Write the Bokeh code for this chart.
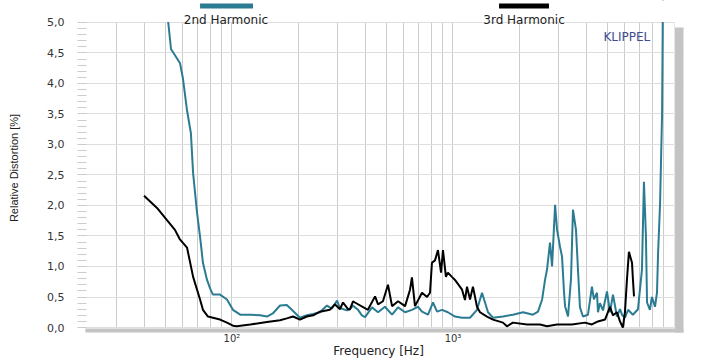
from bokeh.plotting import figure
from bokeh.models import Range1d, FixedTicker, Label
from bokeh.core.properties import value
from bokeh.embed import file_html
from bokeh.resources import INLINE

# ---------------- data ----------------
freq_2nd = [51.3, 53.0, 55.5, 58.2, 60.0, 62.6, 65.2, 66.7, 69.5, 71.7, 73.9, 77.1, 80.0, 82.0, 88.3,
            94.9, 101, 109, 121, 134, 144, 153, 165, 177, 189, 203, 218, 233, 250, 269, 283, 299,
            308, 331, 342, 353, 360, 372, 387, 400, 430, 458, 492, 530, 564, 607, 652, 695, 724,
            771, 812, 847, 892, 948, 1021, 1099, 1194, 1284, 1353, 1396, 1440, 1517, 1683, 1866,
            2075, 2301, 2425, 2531, 2609, 2663, 2748, 2807, 2897, 2957, 3051, 3115, 3177, 3214,
            3315, 3420, 3490, 3602, 3677, 3754, 3873, 4081, 4253, 4341, 4482, 4529, 4624, 4772,
            4975, 5131, 5295, 5519, 5695, 5815, 5998, 6194, 6516, 6871, 7161, 7311, 7464, 7551,
            7780, 7943, 8204, 8375, 8472, 8650, 8831, 8913]
dist_2nd = [5.05, 4.56, 4.45, 4.33, 4.08, 3.56, 3.18, 2.53, 1.88, 1.49, 1.06, 0.78, 0.62, 0.54, 0.54,
            0.46, 0.29, 0.21, 0.21, 0.20, 0.18, 0.23, 0.36, 0.37, 0.27, 0.16, 0.20, 0.22, 0.25, 0.36,
            0.31, 0.44, 0.32, 0.28, 0.30, 0.36, 0.33, 0.29, 0.20, 0.17, 0.33, 0.25, 0.34, 0.21, 0.33,
            0.25, 0.29, 0.34, 0.26, 0.21, 0.41, 0.26, 0.29, 0.25, 0.18, 0.16, 0.16, 0.29, 0.57, 0.41,
            0.25, 0.16, 0.18, 0.21, 0.25, 0.21, 0.26, 0.46, 0.78, 0.95, 1.39, 1.00, 2.01, 1.60, 1.32,
            1.16, 0.60, 0.35, 0.18, 0.80, 1.93, 1.60, 0.95, 0.33, 0.18, 0.21, 0.67, 0.46, 0.57, 0.25,
            0.40, 0.28, 0.59, 0.25, 0.54, 0.18, 0.30, 0.21, 0.16, 0.29, 0.21, 0.30, 0.95, 2.39, 1.50,
            0.41, 0.29, 0.50, 0.34, 0.57, 1.22, 2.04, 3.50, 5.50]

freq_3rd = [40.0, 45.8, 50.8, 55.2, 58.0, 62.6, 66.7, 71.7, 73.9, 77.9, 82.0, 88.3, 94.9, 101, 105,
            121, 144, 165, 177, 189, 203, 218, 233, 250, 277, 292, 308, 318, 335, 342, 353, 360,
            412, 444, 458, 482, 508, 530, 564, 607, 639, 652, 673, 724, 763, 787, 803, 829, 855,
            883, 901, 929, 948, 989, 1021, 1099, 1133, 1157, 1194, 1231, 1284, 1325, 1425, 1517,
            1683, 1754, 1866, 2163, 2477, 2663, 2957, 3454, 3954, 4253, 4529, 4875, 5131, 5295,
            5519, 5695, 5870, 5998, 6124, 6252, 6457, 6516, 6592]
dist_3rd = [2.16, 1.96, 1.76, 1.60, 1.45, 1.31, 0.83, 0.46, 0.29, 0.18, 0.16, 0.13, 0.08, 0.03, 0.02,
            0.05, 0.09, 0.12, 0.15, 0.18, 0.13, 0.18, 0.20, 0.26, 0.29, 0.38, 0.30, 0.41, 0.30, 0.30,
            0.43, 0.41, 0.29, 0.51, 0.38, 0.43, 0.70, 0.35, 0.43, 0.35, 0.62, 0.82, 0.35, 0.57, 0.50,
            0.57, 1.06, 1.10, 1.27, 0.90, 1.27, 0.83, 0.90, 0.83, 0.78, 0.62, 0.45, 0.67, 0.46, 0.67,
            0.34, 0.25, 0.18, 0.13, 0.08, 0.02, 0.08, 0.05, 0.05, 0.02, 0.05, 0.05, 0.08, 0.05, 0.10,
            0.13, 0.34, 0.20, 0.25, 0.10, 0.00, 0.25, 0.78, 1.24, 1.06, 0.80, 0.51]

series_names = ["2nd Harmonic", "3rd Harmonic"]
y_ticks = [0.0, 0.5, 1.0, 1.5, 2.0, 2.5, 3.0, 3.5, 4.0, 4.5, 5.0]
y_tick_labels = ["0,0", "0,5", "1,0", "1,5", "2,0", "2,5", "3,0", "3,5", "4,0", "4,5", "5,0"]
x_ticks = [100, 1000]
x_tick_labels = ["10\u00b2", "10\u00b3"]
x_grid_ticks = [20, 30, 40, 50, 60, 70, 80, 90, 100, 200, 300, 400, 500, 600, 700, 800, 900,
                1000, 2000, 3000, 4000, 5000, 6000, 7000, 8000, 9000, 10000]
y_minor = [round(i * 0.1, 1) for i in range(51)]

TEAL = "#2b7c93"
SHADOW = "#c4c4c4"
FONT = "DejaVu Sans"

# The frame is widened slightly beyond 20 Hz..10 kHz / 0..5 % so that the
# drop shadow and the legend strip can be painted inside it.
p = figure(width=710, height=360, x_axis_type="log",
           x_range=Range1d(20, 11040), y_range=Range1d(-0.0817, 5.359),
           output_backend="svg", toolbar_location=None, title=None,
           min_border_left=77, min_border_right=27, min_border_top=0, min_border_bottom=27)
p.outline_line_color = None
p.background_fill_color = "white"
p.border_fill_color = "white"

# grids
p.xgrid.ticker = FixedTicker(ticks=x_grid_ticks)
p.xgrid.grid_line_color = "#cccccc"
p.ygrid.ticker = FixedTicker(ticks=y_ticks)
p.ygrid.grid_line_color = "#dedede"

# curves
p.line(freq_2nd, dist_2nd, line_color=TEAL, line_width=2)
p.line(freq_3rd, dist_3rd, line_color="black", line_width=2)

# masks: hide grid lines / curves outside the 20 Hz..10 kHz / 0..5 % panel
p.quad(left=[18, 10052, 18], right=[11200, 11200, 11200],
       bottom=[5.008, -0.1, -0.1], top=[5.5, 5.5, -0.008],
       fill_color="white", line_color=None)
# drop shadow
p.quad(left=[21.7, 10105], right=[11200, 11200], bottom=[-0.1, -0.1], top=[-0.0163, 4.918],
       fill_color=SHADOW, line_color=None)

# axes
p.xaxis.ticker = FixedTicker(ticks=x_ticks, minor_ticks=[])
p.xaxis.major_label_overrides = dict(zip(x_ticks, x_tick_labels))
p.xaxis.axis_line_color = None
p.xaxis.major_tick_line_color = None
p.xaxis.minor_tick_line_color = None
p.xaxis.major_tick_in = 0
p.xaxis.major_tick_out = 0
p.xaxis.minor_tick_in = 0
p.xaxis.minor_tick_out = 0
p.xaxis.major_label_standoff = 0
p.xaxis.major_label_text_font = FONT
p.xaxis.major_label_text_font_size = "10px"
p.xaxis.major_label_text_color = "#333333"
p.xaxis.axis_label = "Frequency  [Hz]"
p.xaxis.axis_label_text_font = FONT
p.xaxis.axis_label_text_font_size = "12px"
p.xaxis.axis_label_text_font_style = "normal"
p.xaxis.axis_label_text_color = "#222222"
p.xaxis.axis_label_standoff = -3

p.yaxis.ticker = FixedTicker(ticks=y_ticks, minor_ticks=y_minor)
p.yaxis.major_label_overrides = dict(zip(y_ticks, y_tick_labels))
p.yaxis.axis_line_color = None
p.yaxis.major_tick_line_color = None
p.yaxis.major_tick_in = 0
p.yaxis.major_tick_out = 0
p.yaxis.minor_tick_in = 9
p.yaxis.minor_tick_out = 0
p.yaxis.minor_tick_line_color = "#cccccc"
p.yaxis.major_label_standoff = 13
p.yaxis.major_label_text_font = FONT
p.yaxis.major_label_text_font_size = "11px"
p.yaxis.major_label_text_color = "#333333"
p.yaxis.axis_label = "Relative Distortion  [%]"
p.yaxis.axis_label_text_font = "Liberation Sans"
p.yaxis.axis_label_text_font_size = "11px"
p.yaxis.axis_label_text_font_style = "normal"
p.yaxis.axis_label_text_color = "#222222"
p.yaxis.axis_label_standoff = 24

# legend strip (bars above their names)
p.quad(left=[71.7, 1616], right=[124.5, 2718], bottom=[5.229, 5.229], top=[5.31, 5.31],
       fill_color=[TEAL, "black"], line_color=None)
p.text(x=[93.9, 2096], y=[5.033, 5.033], text=series_names, text_align="center",
       text_baseline="alphabetic", text_font=value(FONT), text_font_size="12px",
       text_color="#222222")

# brand
p.add_layout(Label(x=6120, y=4.765, text="KLIPPEL", text_align="center",
                   text_baseline="middle", text_font=FONT, text_font_size="12px",
                   text_color="#3d4d8f"))

open("out.html", "w").write(file_html(p, INLINE))
